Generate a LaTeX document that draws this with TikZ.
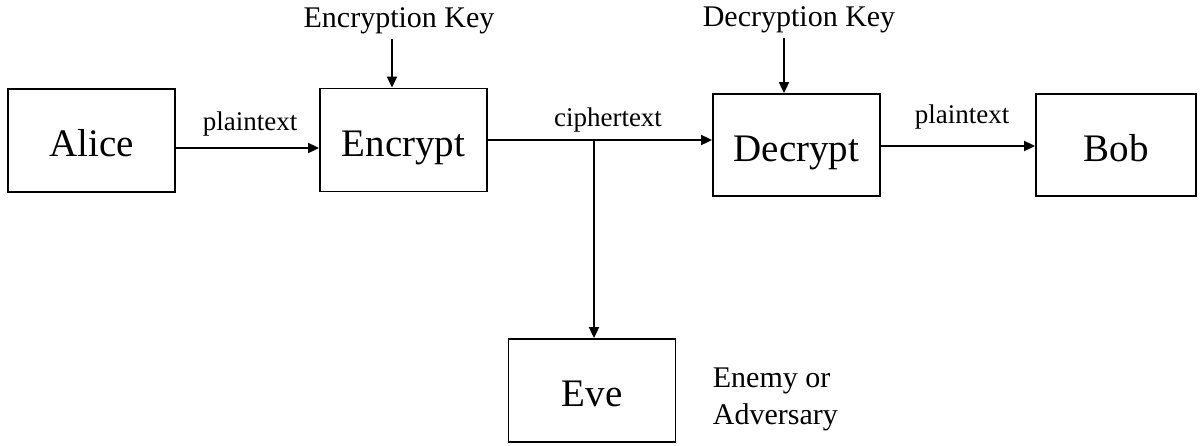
\documentclass[tikz,border=0pt]{standalone}
\usepackage{fontspec}
\setmainfont{Liberation Serif}
\usepackage{tikz}
\usetikzlibrary{arrows.meta,calc,positioning}

\begin{document}
\begin{tikzpicture}[>={Triangle[length=11pt,width=10pt]},line join=miter,
  x=1pt,y=-1pt,line width=1.8pt,
  party/.style={draw,rectangle,inner sep=0pt,minimum width=167pt,minimum height=103pt,
    font=\fontsize{39}{44}\selectfont,text height=32pt,text depth=0pt},
  keylab/.style={font=\fontsize{30}{34}\selectfont,inner sep=0pt,anchor=base},
  flowlab/.style={font=\fontsize{27}{30}\selectfont,inner sep=0pt,anchor=base}]
  \path[use as bounding box] (0,0) rectangle (1203,445);
  \fill[white] (0,0) rectangle (1203,445);
  % the five boxes
  \node[party] (alice) at (91.5,140.5) {Alice};
  \node[party] (enc) at (403.5,140) {Encrypt};
  \node[party,minimum height=102pt] (dec) at (796.5,145) {Decrypt};
  \node[party,minimum width=160pt,minimum height=102pt] (bob) at (1116,145) {Bob};
  \node[party] (eve) at (592,390.5) {Eve};
  % keys and labels
  \node[keylab] (enckey) at (399,27) {Encryption Key};
  \node[keylab] (deckey) at (799,26) {Decryption Key};
  \node[keylab,anchor=base west,align=left] (enemy) at (712,424) {Enemy or\\[3pt]Adversary};
  \node[flowlab] (pt1) at (250,130) {plaintext};
  \node[flowlab] (ct) at (608,126) {ciphertext};
  \node[flowlab] (pt2) at (962,123) {plaintext};
  % connectors
  \draw[->] ([yshift=-7.5pt]alice.east) -- ([yshift=-7.5pt]alice.east -| enc.west);
  \draw[->] ([xshift=-7pt,yshift=-5pt]enckey.south) -- ([xshift=-7pt]enckey.south |- enc.north);
  \draw[->] ([xshift=-15pt,yshift=-5pt]deckey.south) -- ([xshift=-15pt]deckey.south |- dec.north);
  \draw[->] (enc.east) -- (enc.east -| dec.west);
  \coordinate (tap) at (enc.east -| eve.north);
  \draw[->] ([xshift=2pt]tap) -- ([xshift=2pt]eve.north);
  \draw[->] ([yshift=-1pt]dec.east) -- ([yshift=-1pt]dec.east -| bob.west);
\end{tikzpicture}
\end{document}
